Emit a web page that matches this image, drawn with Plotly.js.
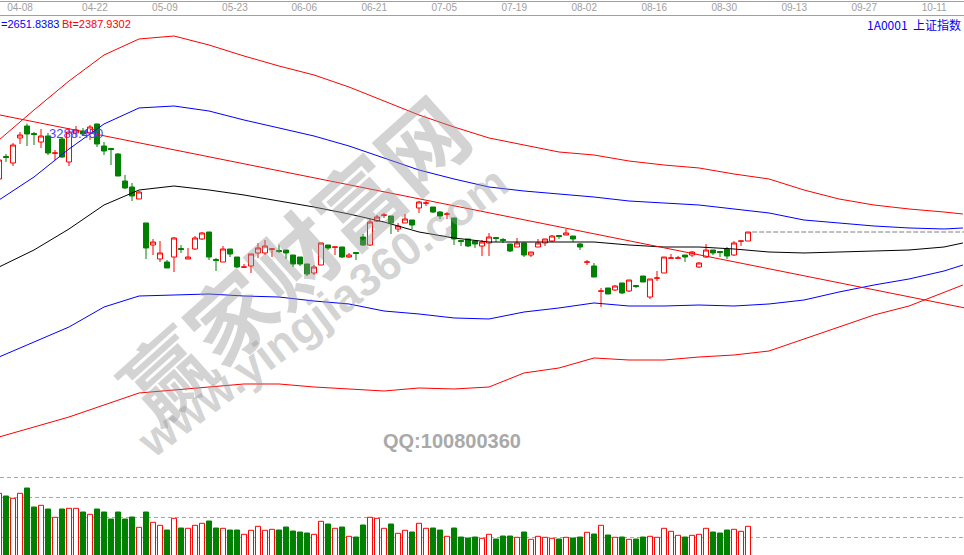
<!DOCTYPE html>
<html><head><meta charset="utf-8">
<script src="https://cdn.plot.ly/plotly-3.0.1.min.js"></script>
<style>html,body{margin:0;padding:0;background:#fff;overflow:hidden}#chart{width:964px;height:555px}</style>
</head><body><div id="chart"></div>
<script>
// ---- data ----
const openPx = [3117.7,3187.0,3167.0,3244.0,3280.9,3257.8,3231.6,3250.1,3197.2,3240.9,
3170.0,3259.4,3265.5,3259.4,3287.1,3219.3,3211.6,3194.7,3111.5,3093.0,
3056.1,2982.2,2914.4,2871.3,2862.0,2877.4,2903.6,2871.3,2902.1,2932.9,
2954.4,2869.7,2862.0,2902.1,2877.4,2846.0,2849.7,2889.8,2889.8,2901.5,
2897.5,2899.0,2883.6,2877.4,2855.9,2828.2,2852.8,2914.4,2907.7,2908.2,
2877.4,2891.3,2939.0,2914.4,2988.3,3006.2,3003.7,2963.7,2982.2,2991.4,
3028.4,3043.2,3031.4,3016.0,3009.3,2997.6,2928.3,2932.9,2926.7,2911.3,
2920.6,2937.5,2931.3,2917.5,2908.2,2920.6,2883.6,2908.2,2920.6,2926.7,
2943.7,2945.2,2942.1,2917.5,2861.4,2849.7,2772.1,2782.0,2775.8,2797.4,
2772.7,2789.7,2818.9,2754.2,2812.2,2828.2,2873.8,2873.8,2883.6,2883.6,
2846.6,2877.4,2899.0,2894.4,2902.1,2883.6,2926.1,2926.7];
const highPx = [3176.2,3194.7,3228.6,3262.4,3288.45,3262.4,3271.7,3259.4,3207.0,3244.0,
3274.8,3280.9,3274.8,3284.0,3287.8,3231.6,3213.2,3197.8,3130.0,3105.4,
3080.7,2982.2,2932.9,2926.7,2868.2,2939.0,2914.4,2905.2,2942.1,2954.4,
2954.4,2874.4,2911.3,2902.1,2877.4,2855.9,2886.7,2920.6,2929.8,2905.2,
2914.4,2899.0,2883.6,2877.4,2855.9,2852.8,2920.6,2914.4,2908.2,2908.2,
2889.8,2891.3,2948.3,2994.5,3006.8,3013.0,3003.7,2982.2,3009.9,2991.4,
3049.9,3049.9,3031.4,3019.1,3016.0,2997.6,2929.8,2932.9,2926.7,2929.8,
2951.4,2939.0,2936.0,2917.5,2936.0,2920.6,2892.8,2932.9,2932.9,2945.2,
2943.7,2963.7,2942.1,2920.6,2868.2,2859.0,2782.0,2782.0,2791.2,2797.4,
2806.6,2791.2,2818.9,2809.7,2834.3,2877.4,2886.7,2880.5,2883.6,2895.9,
2862.0,2917.5,2899.0,2894.4,2908.2,2926.7,2926.7,2954.4];
const lowPx = [3117.7,3170.0,3157.7,3225.5,3219.3,3222.4,3213.2,3191.6,3176.2,3182.4,
3157.7,3247.0,3250.1,3237.8,3216.2,3191.6,3160.8,3126.9,3086.9,3049.9,
3056.1,2871.3,2883.6,2862.0,2843.6,2831.2,2889.8,2871.3,2899.0,2929.8,
2868.2,2834.3,2862.0,2877.4,2843.6,2843.6,2828.2,2874.4,2883.6,2877.4,
2889.8,2871.3,2846.6,2849.7,2818.9,2822.0,2852.8,2899.0,2883.6,2874.4,
2874.4,2868.2,2911.3,2911.3,2985.2,2997.6,2948.3,2954.4,2982.2,2963.7,
3013.0,3034.5,3013.0,2994.5,2994.5,2914.4,2911.3,2908.2,2905.2,2880.5,
2880.5,2923.6,2920.6,2892.8,2908.2,2877.4,2877.4,2908.2,2911.3,2923.6,
2932.9,2945.2,2923.6,2899.0,2852.8,2815.8,2723.4,2763.5,2772.7,2763.5,
2769.6,2782.0,2800.4,2748.1,2803.5,2828.2,2871.3,2871.3,2862.0,2877.4,
2843.6,2874.4,2883.6,2877.4,2871.3,2880.5,2911.3,2926.7];
const closePx = [3176.2,3183.9,3222.4,3253.2,3256.3,3254.7,3250.1,3197.8,3197.8,3185.4,
3262.4,3268.6,3256.3,3277.8,3225.5,3203.9,3208.5,3126.9,3090.0,3065.3,
3077.6,2905.2,2923.6,2889.8,2843.6,2936.0,2900.5,2877.4,2936.0,2951.4,
2877.4,2866.7,2902.1,2886.7,2846.6,2846.6,2886.7,2905.2,2911.3,2902.1,
2894.4,2889.8,2855.9,2855.9,2825.1,2846.6,2920.6,2905.2,2908.2,2877.4,
2883.6,2888.2,2914.4,2985.2,3000.6,3006.8,2982.2,2972.9,2994.5,2976.0,
3046.8,3043.8,3016.0,3003.7,3009.9,2932.9,2925.2,2911.3,2917.5,2923.6,
2939.0,2934.4,2928.3,2895.9,2920.6,2883.6,2892.8,2920.6,2932.9,2942.1,
2940.6,2951.4,2932.9,2908.2,2862.0,2815.8,2772.7,2763.5,2788.1,2766.6,
2806.6,2786.6,2800.4,2809.7,2812.8,2877.4,2874.4,2874.4,2877.4,2892.8,
2859.0,2899.0,2889.8,2891.3,2880.5,2920.6,2926.7,2954.4];
const volume = [3200,3065,2950,3200,3465,2515,2600,2415,2000,2415,
2450,2450,2265,2150,2415,2265,1915,2265,1915,2015,
1500,2265,1750,1600,1365,1950,1465,1450,1600,1700,
1815,1465,1450,1365,1365,1150,1350,1550,1350,1400,
1365,1515,1315,1265,1215,1150,1800,1665,1450,1515,
1050,1015,1615,2000,1950,1450,1665,1200,1350,1265,
1700,1450,1465,1365,1050,1465,1015,965,1015,950,
1150,915,1065,1065,1000,1265,900,1050,1000,950,
915,1000,965,1015,1250,1165,1600,1115,1000,1015,
900,915,1015,1050,1000,1450,1300,1100,1015,1100,
1150,1450,1265,1215,1365,1400,1300,1550];

// channel lines, sampled every 5 bars (projected beyond the last bar)
const bandIdx = [0,5,10,15,20,25,30,35,40,45,50,55,60,65,70,75,80,85,90,95,100,105,110,115,120,125,130,135,137.7];
const upperRed = [3237.8,3330.2,3419.5,3499.6,3548.9,3558.1,3530.4,3496.5,3465.7,3438.0,3401.0,3357.9,3314.8,3277.8,3244.0,3222.4,3200.8,3191.6,3173.1,3160.8,3151.6,3133.1,3117.7,3083.8,3056.1,3037.6,3025.3,3016.0,3009.9];
const upperBlue = [3053.0,3123.8,3210.1,3287.1,3336.4,3342.5,3327.1,3299.4,3274.8,3250.1,3219.3,3182.4,3145.4,3117.7,3093.0,3080.7,3071.5,3062.2,3049.9,3043.8,3037.6,3025.3,3013.0,2991.4,2982.2,2972.9,2966.8,2963.7,2966.8];
const midBlack = [2846.6,2899.0,2963.7,3037.6,3083.8,3096.1,3083.8,3068.4,3049.9,3031.4,3009.9,2985.2,2954.4,2936.0,2923.6,2923.6,2923.6,2923.6,2914.4,2908.2,2908.2,2902.1,2892.8,2889.8,2892.8,2895.9,2899.0,2908.2,2920.6];
const lowerBlue = [2569.4,2615.6,2661.8,2723.4,2757.3,2760.4,2763.5,2757.3,2754.2,2741.9,2732.7,2711.1,2701.9,2689.6,2686.5,2708.0,2720.4,2735.8,2726.5,2726.5,2729.6,2726.5,2732.7,2745.0,2769.6,2791.2,2809.7,2834.3,2852.8];
const lowerRed = [2323.0,2353.8,2384.6,2421.6,2458.6,2467.8,2477.0,2486.3,2486.3,2477.0,2470.9,2464.7,2474.0,2470.9,2477.0,2520.2,2535.6,2566.4,2560.2,2560.2,2569.4,2575.6,2587.9,2624.9,2661.8,2698.8,2726.5,2769.6,2791.2];

// straight trend line (two end points)
const trendIdx = [0, 138];
const trendVal = [3315.4, 2720.4];

// date labels on the top axis
const tickLabels = ['04-08','04-22','05-09','05-23','06-06','06-21','07-05','07-19','08-02','08-16','08-30','09-13','09-27','10-11'];
const tickPos = [3.0,13.7,23.7,33.7,43.6,53.6,63.6,73.6,83.6,93.6,103.6,113.6,123.6,133.6];

const headerA = '=2651.8383';
const headerB = 'Bt=2387.9302';
const headerCode = '1A0001  上证指数';
const highLabel = '3288.450';

// ---- build ----
const idx = openPx.map((_, i) => i);
const up = idx.map(i => closePx[i] >= openPx[i]);
const RED = '#ff0000', GREEN = '#008000', BLUE = '#0000ff';

const W = 964, H = 555;
const px = x => x / W;
const py = y => 1 - y / H;

function band(vals, color) {
  return {type:'scatter', mode:'lines', x:bandIdx, y:vals, xaxis:'x', yaxis:'y',
          line:{color:color, width:1}, hoverinfo:'skip', showlegend:false};
}

const traces = [
  band(upperRed, RED),
  band(upperBlue, BLUE),
  band(midBlack, '#000000'),
  band(lowerBlue, BLUE),
  band(lowerRed, RED),
  {type:'scatter', mode:'lines', x:trendIdx, y:trendVal, line:{color:RED, width:1},
   hoverinfo:'skip', showlegend:false},
  {type:'candlestick', x:idx, open:openPx, high:highPx, low:lowPx, close:closePx,
   xaxis:'x', yaxis:'y', whiskerwidth:0,
   increasing:{line:{color:RED, width:1}, fillcolor:'#ffffff'},
   decreasing:{line:{color:GREEN, width:1}, fillcolor:GREEN},
   hoverinfo:'skip', showlegend:false},
  {type:'bar', x:idx, y:volume, xaxis:'x', yaxis:'y2', width:0.72,
   marker:{color:up.map(u => u ? '#ffffff' : GREEN),
           line:{color:up.map(u => u ? RED : GREEN), width:1}},
   hoverinfo:'skip', showlegend:false}
];

const lastClose = closePx[closePx.length - 1];

const layout = {
  width: W, height: H,
  margin:{l:0, r:0, t:0, b:0, pad:0},
  paper_bgcolor:'#ffffff', plot_bgcolor:'rgba(0,0,0,0)',
  showlegend:false, hovermode:false,
  boxgap:0.28, boxgroupgap:0,
  font:{family:'Liberation Sans, Arial, sans-serif'},
  xaxis:{domain:[0,1], range:[1/7, 965/7], side:'top', anchor:'y',
         showline:true, linecolor:'#a0a0a0', linewidth:1, mirror:false,
         showgrid:false, zeroline:false, ticks:'', ticklen:0,
         tickmode:'array', tickvals:tickPos, ticktext:tickLabels,
         tickfont:{size:10, color:'#a0a0a0', family:'Liberation Sans'},
         rangeslider:{visible:false}, fixedrange:true},
  yaxis:{domain:[py(470), py(16)], range:[2221.4, 3619.7],
         showgrid:false, zeroline:false, showticklabels:false, ticks:'', showline:false, fixedrange:true},
  yaxis2:{domain:[0, py(470)], range:[115, 4365], anchor:'x',
          tickmode:'array', tickvals:[1000,2000,3000,4000],
          showgrid:true, gridcolor:'#a8a8a8', gridwidth:1, griddash:'4px,3px',
          zeroline:false, showticklabels:false, ticks:'', showline:false, fixedrange:true},
  shapes:[
    {type:'line', xref:'paper', yref:'paper', x0:0, x1:1, y0:py(1.5), y1:py(1.5),
     line:{color:'#a0a0a0', width:1}},
    {type:'line', xref:'x', yref:'y', x0:107.6, x1:138, y0:lastClose, y1:lastClose,
     line:{color:'#808080', width:1, dash:'5px,2px'}}
  ],
  annotations:[
    {xref:'paper', yref:'paper', x:px(292), y:py(257), text:'赢家财富网', showarrow:false,
     textangle:-42, xanchor:'center', yanchor:'middle',
     font:{family:'Noto Sans CJK SC', size:86, weight:'bold', color:'rgba(150,150,150,0.42)'}},
    {xref:'paper', yref:'paper', x:px(322), y:py(312), text:'www.yingjia360.com', showarrow:false,
     textangle:-37, xanchor:'center', yanchor:'middle',
     font:{family:'Liberation Sans', size:46, weight:'bold', color:'rgba(150,150,150,0.42)'}},
    {xref:'paper', yref:'paper', x:px(452), y:py(441), text:'QQ:100800360', showarrow:false,
     xanchor:'center', yanchor:'middle',
     font:{family:'Liberation Sans', size:20, weight:'bold', color:'#a9a9a9'}},
    {xref:'paper', yref:'paper', x:px(-1), y:py(24), text:headerA, showarrow:false,
     xanchor:'left', yanchor:'middle', font:{family:'Liberation Sans', size:11, color:BLUE}},
    {xref:'paper', yref:'paper', x:px(60), y:py(24), text:headerB, showarrow:false,
     xanchor:'left', yanchor:'middle', font:{family:'Liberation Sans', size:11, color:RED}},
    {xref:'paper', yref:'paper', x:px(963), y:py(24), text:headerCode, showarrow:false,
     xanchor:'right', yanchor:'middle', font:{family:'Noto Sans CJK SC', size:12, color:BLUE}},
    {xref:'paper', yref:'paper', x:px(47), y:py(133), text:highLabel, showarrow:false,
     xanchor:'left', yanchor:'middle', font:{family:'Liberation Sans', size:13, color:'#4646ff'}}
  ]
};

Plotly.newPlot('chart', traces, layout, {displayModeBar:false, staticPlot:true});
</script>
</body></html>
